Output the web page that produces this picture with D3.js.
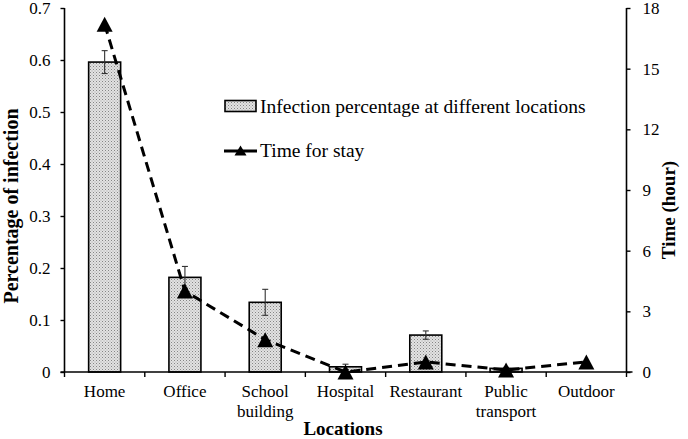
<!DOCTYPE html>
<html>
<head>
<meta charset="utf-8">
<script src="https://cdn.jsdelivr.net/npm/d3@7"></script>
<style>
  html, body { margin: 0; padding: 0; background: #fff; }
  svg text { font-family: "Liberation Serif", "Times New Roman", serif !important; fill: #000; }
</style>
</head>
<body>
<svg id="chart" width="688" height="439" font-family="Liberation Serif"></svg>
<script>
const categories = ["Home", "Office", "School building", "Hospital", "Restaurant", "Public transport", "Outdoor"];
const categoryLines = [["Home"], ["Office"], ["School", "building"], ["Hospital"], ["Restaurant"], ["Public", "transport"], ["Outdoor"]];
const infection = [0.596, 0.182, 0.134, 0.010, 0.071, 0.007, 0.0];
const infectionErr = [0.022, 0.021, 0.025, 0.005, 0.008, 0.002, 0.0];
const timeStay = [17.2, 4.0, 1.6, 0.0, 0.5, 0.1, 0.5];
const leftTicks = [0, 0.1, 0.2, 0.3, 0.4, 0.5, 0.6, 0.7];
const rightTicks = [0, 3, 6, 9, 12, 15, 18];

const FONT = "Liberation Serif";
const svg = d3.select("#chart");
const L = 64.5, R = 626.5, T = 8, B = 372;

const defs = svg.append("defs");
const pat = defs.append("pattern").attr("id", "dots").attr("patternUnits", "userSpaceOnUse")
  .attr("width", 3).attr("height", 3);
pat.append("rect").attr("width", 3).attr("height", 3).attr("fill", "#e2e2e2");
pat.append("rect").attr("x", 0).attr("y", 0).attr("width", 1).attr("height", 1).attr("fill", "#858585");
pat.append("rect").attr("x", 1.5).attr("y", 1.5).attr("width", 1).attr("height", 1).attr("fill", "#a5a5a5");

const xb = d3.scaleBand().domain(categories).range([L, R]);
const yL = d3.scaleLinear().domain([0, 0.7]).range([B, T]);
const yR = d3.scaleLinear().domain([0, 18]).range([B, T]);

// bars
svg.append("g").selectAll("rect").data(categories).join("rect")
  .attr("x", d => xb(d) + (xb.bandwidth() - 32) / 2)
  .attr("width", 32)
  .attr("y", (d, i) => yL(infection[i]))
  .attr("height", (d, i) => B - yL(infection[i]))
  .attr("fill", "url(#dots)")
  .attr("stroke", "#000").attr("stroke-width", 1.6)
  .style("display", (d, i) => infection[i] > 0 ? null : "none");

// error bars
const eg = svg.append("g").attr("stroke", "#333").attr("stroke-width", 1.1);
categories.forEach((c, i) => {
  if (infectionErr[i] <= 0) return;
  const cx = xb(c) + xb.bandwidth() / 2;
  const y1 = yL(infection[i] + infectionErr[i]), y2 = yL(infection[i] - infectionErr[i]);
  eg.append("line").attr("x1", cx).attr("x2", cx).attr("y1", y1).attr("y2", y2);
  eg.append("line").attr("x1", cx - 3).attr("x2", cx + 3).attr("y1", y1).attr("y2", y1);
  eg.append("line").attr("x1", cx - 3).attr("x2", cx + 3).attr("y1", y2).attr("y2", y2);
});

// axes
const axL = svg.append("g").attr("transform", `translate(${L},0)`)
  .call(d3.axisLeft(yL).tickValues(leftTicks).tickSize(4).tickPadding(10).tickFormat(d => d === 0 ? "0" : d3.format(".1f")(d)));
const axR = svg.append("g").attr("transform", `translate(${R},0)`)
  .call(d3.axisRight(yR).tickValues(rightTicks).tickSize(4).tickPadding(12));
const axB = svg.append("g").attr("transform", `translate(0,${B})`)
  .call(d3.axisBottom(xb).tickValues([]).tickSizeOuter(0));
[axL, axR, axB].forEach(a => {
  a.attr("font-family", FONT).attr("font-size", 17);
  a.select(".domain").attr("stroke", "#000").attr("stroke-width", 1.6);
  a.selectAll(".tick line").attr("stroke", "#000").attr("stroke-width", 1.4);
  a.selectAll("text").attr("font-family", FONT).attr("font-size", 17).attr("fill", "#000");
});
axL.select(".domain").attr("d", `M0,${T}H0V${B}`);
axR.select(".domain").attr("d", `M0,${T}V${B}`);
axB.select(".domain").attr("d", `M${L - 4},0H${R + 6}`);
// x ticks at category boundaries
const bTicks = categories.map(c => xb(c)).slice(1).concat([R]);
axB.selectAll(".btick").data(bTicks).join("line").attr("class", "btick")
  .attr("x1", d => d).attr("x2", d => d).attr("y1", 0).attr("y2", 5)
  .attr("stroke", "#000").attr("stroke-width", 1.4);
axB.append("line").attr("x1", L).attr("x2", L).attr("y1", 0).attr("y2", 5).attr("stroke", "#000").attr("stroke-width", 1.4);

// category labels
const lab = svg.append("g").attr("font-family", FONT).attr("font-size", 17);
categories.forEach((c, i) => {
  const cx = xb(c) + xb.bandwidth() / 2;
  const t = lab.append("text").attr("text-anchor", "middle").attr("x", cx).attr("y", 397);
  categoryLines[i].forEach((ln, j) => {
    t.append("tspan").attr("x", cx).attr("dy", j === 0 ? 0 : 20).text(ln);
  });
});

// line
const pts = categories.map((c, i) => [xb(c) + xb.bandwidth() / 2, yR(timeStay[i])]);
svg.append("path").attr("d", d3.line()(pts)).attr("fill", "none").attr("stroke", "#000")
  .attr("stroke-width", 3).attr("stroke-dasharray", "10,6");

const tri = (cx, cy, w, h) => `M${cx},${cy - h / 2}L${cx + w / 2},${cy + h / 2}L${cx - w / 2},${cy + h / 2}Z`;
svg.append("g").selectAll("path").data(pts).join("path")
  .attr("d", d => tri(d[0], d[1], 16, 15)).attr("fill", "#000");

// titles
svg.append("text").attr("transform", "translate(18,206) rotate(-90)").attr("text-anchor", "middle")
  .attr("font-family", FONT).attr("font-size", 20).attr("font-weight", "bold").text("Percentage of infection");
svg.append("text").attr("transform", "translate(675,210) rotate(-90)").attr("text-anchor", "middle")
  .attr("font-family", FONT).attr("font-size", 19).attr("font-weight", "bold").text("Time (hour)");
svg.append("text").attr("x", 343).attr("y", 435).attr("text-anchor", "middle")
  .attr("font-family", FONT).attr("font-size", 19).attr("font-weight", "bold").text("Locations");

// legend
const lg = svg.append("g").attr("font-family", FONT).attr("font-size", 19.5);
lg.append("rect").attr("x", 225).attr("y", 100.5).attr("width", 31).attr("height", 11)
  .attr("fill", "url(#dots)").attr("stroke", "#000").attr("stroke-width", 1.6);
lg.append("text").attr("x", 260).attr("y", 112.5).text("Infection percentage at different locations");
lg.append("line").attr("x1", 224).attr("x2", 257).attr("y1", 151).attr("y2", 151).attr("stroke", "#000").attr("stroke-width", 3);
lg.append("path").attr("d", tri(240.5, 150.5, 12, 10)).attr("fill", "#000");
lg.append("text").attr("x", 260).attr("y", 157).text("Time for stay");
</script>
</body>
</html>
